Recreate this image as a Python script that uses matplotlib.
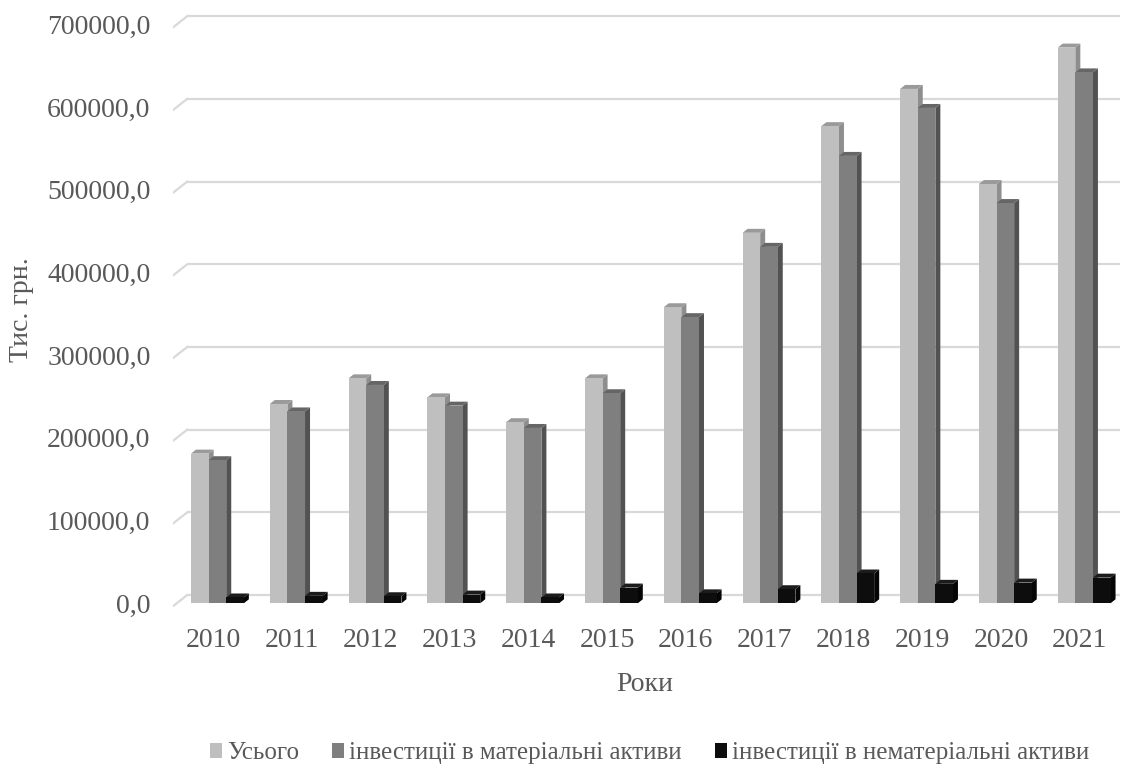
import matplotlib
matplotlib.use("Agg")
import matplotlib.pyplot as plt
from matplotlib.patches import Polygon, Patch

# Capital investment, thousand UAH
years = ["2010", "2011", "2012", "2013", "2014", "2015",
         "2016", "2017", "2018", "2019", "2020", "2021"]
total = [181000, 241000, 272000, 249000, 219000, 272000,
         358000, 448000, 577000, 622000, 507000, 672000]
tangible = [173000, 232000, 264000, 239000, 212000, 254000,
            346000, 431000, 541000, 599000, 484000, 642000]
intangible = [7000, 9000, 8500, 10500, 7000, 19000,
              12000, 17000, 36000, 23500, 25000, 31000]
series_names = ["Усього", "інвестиції в матеріальні активи",
                "інвестиції в нематеріальні активи"]
y_ticks = [0, 100000, 200000, 300000, 400000, 500000, 600000, 700000]

plt.rcParams["font.family"] = ["Liberation Serif", "DejaVu Serif"]
TEXT = "#595959"
GRID = "#d9d9d9"

# front / top / side shades for each series
faces = [
    ("#bfbfbf", "#9a9a9a", "#8e8e8e"),
    ("#7f7f7f", "#666666", "#525252"),
    ("#0d0d0d", "#1c1c1c", "#050505"),
]

fig = plt.figure(figsize=(11.22, 7.71), dpi=100)
ax = fig.add_axes([0.1539, 0.2122, 0.8443, 0.769])
x_lo, x_hi = -0.568, 11.455
y_lo, y_hi = -5000, 712000
ax.set_xlim(x_lo, x_hi)
ax.set_ylim(y_lo, y_hi)
for s in ax.spines.values():
    s.set_visible(False)

# depth of the bars and of the back wall, in data units
bar_dx, bar_dy = 0.0635, 4800
floor_front_dy = -3900
wall_dx, wall_dy = 0.185, 10000

# back-wall gridlines with the receding floor edge on the left
for t in y_ticks:
    ax.plot([x_lo + wall_dx, x_hi], [t + wall_dy, t + wall_dy],
            color=GRID, lw=1.6, zorder=1, solid_capstyle="butt")
    ax.plot([x_lo, x_lo + wall_dx], [t + floor_front_dy, t + wall_dy],
            color=GRID, lw=1.6, zorder=1)

w = 0.2235
series = [total, tangible, intangible]
z = 2
for i in range(len(years)):
    for k, vals in enumerate(series):
        v = vals[i]
        x0 = i - 1.5 * w + k * w
        front, top, side = faces[k]
        ax.add_patch(Polygon([(x0 + w, 0), (x0 + w + bar_dx, bar_dy),
                              (x0 + w + bar_dx, v + bar_dy), (x0 + w, v)],
                             closed=True, facecolor=side, edgecolor="none",
                             zorder=z))
        ax.add_patch(Polygon([(x0, v), (x0 + w, v),
                              (x0 + w + bar_dx, v + bar_dy),
                              (x0 + bar_dx, v + bar_dy)],
                             closed=True, facecolor=top, edgecolor="none",
                             zorder=z))
        ax.bar(x0, v, width=w, align="edge", color=front,
               edgecolor="none", zorder=z + 0.5)
        z += 1

ax.set_yticks(y_ticks)
ax.set_yticklabels([f"{t:.1f}".replace(".", ",") for t in y_ticks])
ax.set_xticks([i - 0.055 for i in range(len(years))])
ax.set_xticklabels(years)
ax.tick_params(axis="y", length=0, pad=16, labelsize=20, labelcolor=TEXT)
ax.tick_params(axis="x", length=0, pad=15, labelsize=20, labelcolor=TEXT)

fig.text(0.0195, 0.598, "Тис. грн.", rotation=90, ha="center", va="center",
         fontsize=20, color=TEXT)
fig.text(0.575, 0.112, "Роки", ha="center", va="center",
         fontsize=20, color=TEXT)

handles = [Patch(facecolor=faces[k][0], edgecolor="none") for k in range(3)]
fig.legend(handles, series_names, loc="center", bbox_to_anchor=(0.579, 0.023),
           ncol=3, frameon=False, fontsize=18, labelcolor=TEXT,
           handlelength=0.5, handleheight=0.5, handletextpad=0.2,
           columnspacing=1.3)

fig.savefig("out.png", dpi=100)
